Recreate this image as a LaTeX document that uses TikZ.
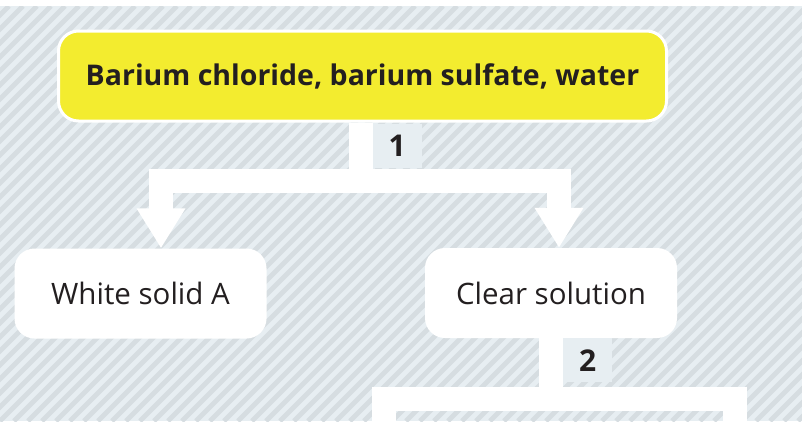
\documentclass[tikz,border=0pt]{standalone}
\usepackage{fontspec}
\setmainfont{Open Sans}
\usetikzlibrary{arrows.meta,positioning}
\definecolor{barium}{HTML}{F3EC2F}
\definecolor{stripelight}{HTML}{E7EEF2}
\definecolor{stripedark}{HTML}{D6DDE1}
\definecolor{inktext}{HTML}{231F20}
\begin{document}
\begin{tikzpicture}[x=1pt,y=-1pt,
	stripe/.style={stripedark,line width=4.8pt},
	titlebox/.style={fill=barium,draw=white,line width=3pt,rounded corners=20pt,minimum width=608pt,minimum height=90pt,inner sep=0pt,text=inktext,font=\fontsize{28.5}{30}\selectfont\bfseries},
	resultbox/.style={fill=white,rounded corners=20pt,minimum width=252pt,minimum height=90pt,inner sep=0pt,text=inktext,font=\fontsize{29.5}{32}\selectfont},
	steplabel/.style={fill=stripelight,minimum width=49pt,minimum height=44pt,inner sep=0pt,text=inktext,font=\fontsize{30}{32}\selectfont\bfseries},
	flow/.style={white,line width=24pt,line join=miter},
	flowtip/.style={flow,-{Triangle[width=46pt,length=40pt]}}]
	
	\useasboundingbox(0,0)rectangle(802,421);
	\fill[white](0,0)rectangle(802,421);
	\begin{scope}
		\clip(0,6)rectangle(802,421);
		\fill[stripelight](0,6)rectangle(802,421);
		\foreach \i in {-31,...,58}\draw[stripe](\i*14,421)--++(415,-415);
	\end{scope}
	
	\node[titlebox](top) at (362.5,76){Barium chloride, barium sulfate, water};
	\node[resultbox](solidA) at (140.5,293.5){White solid A};
	\node[resultbox](clear) at (551,293){Clear solution};
	
	\draw[flowtip]([xshift=-2pt]top.south)--++(0,58.5)-|([xshift=20.5pt]solidA.north);
	\draw[flowtip]([xshift=-2pt]top.south)--++(0,58.5)-|([xshift=8pt]clear.north);
	\node[steplabel,below right=1.5pt and 10pt of top.south,anchor=north west](step1){1};
	
	\coordinate(left2) at (383.5,440);
	\coordinate(right2) at (734.5,440);
	\draw[flow](clear.south)--++(0,60.5)-|(left2);
	\draw[flow](clear.south)--++(0,60.5)-|(right2);
	\node[steplabel,below right=0pt and 12pt of clear.south,anchor=north west](step2){2};
\end{tikzpicture}
\end{document}
